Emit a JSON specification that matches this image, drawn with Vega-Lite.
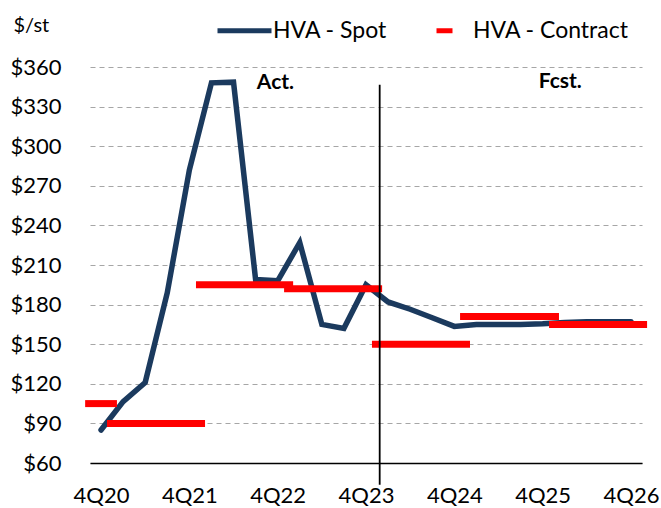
{
  "$schema": "https://vega.github.io/schema/vega-lite/v6.json",
  "autosize": "none",
  "width": 552,
  "height": 396,
  "padding": {"left": 90, "top": 67, "right": 19, "bottom": 45},
  "background": "white",
  "config": {
    "view": {"stroke": null},
    "font": "Lato",
    "axis": {"labelFont": "Lato", "labelFontSize": 22, "labelColor": "#000000", "titleFont": "Lato", "labelOverlap": false, "labelBound": false}
  },
  "datasets": {
    "spot": [
      {"t": 0, "v": 85, "series": "HVA - Spot"},
      {"t": 1, "v": 106.5, "series": "HVA - Spot"},
      {"t": 2, "v": 121, "series": "HVA - Spot"},
      {"t": 3, "v": 189, "series": "HVA - Spot"},
      {"t": 4, "v": 282, "series": "HVA - Spot"},
      {"t": 5, "v": 348, "series": "HVA - Spot"},
      {"t": 6, "v": 348.5, "series": "HVA - Spot"},
      {"t": 7, "v": 199, "series": "HVA - Spot"},
      {"t": 8, "v": 198, "series": "HVA - Spot"},
      {"t": 9, "v": 227, "series": "HVA - Spot"},
      {"t": 10, "v": 165, "series": "HVA - Spot"},
      {"t": 11, "v": 162, "series": "HVA - Spot"},
      {"t": 12, "v": 195, "series": "HVA - Spot"},
      {"t": 13, "v": 182, "series": "HVA - Spot"},
      {"t": 14, "v": 176.5, "series": "HVA - Spot"},
      {"t": 15, "v": 170, "series": "HVA - Spot"},
      {"t": 16, "v": 163.5, "series": "HVA - Spot"},
      {"t": 17, "v": 165, "series": "HVA - Spot"},
      {"t": 18, "v": 165, "series": "HVA - Spot"},
      {"t": 19, "v": 165, "series": "HVA - Spot"},
      {"t": 20, "v": 165.5, "series": "HVA - Spot"},
      {"t": 21, "v": 166.5, "series": "HVA - Spot"},
      {"t": 22, "v": 167, "series": "HVA - Spot"},
      {"t": 23, "v": 167, "series": "HVA - Spot"},
      {"t": 24, "v": 167, "series": "HVA - Spot"}
    ],
    "contract": [
      {"t1": -0.72, "t2": 0.72, "v": 105, "series": "HVA - Contract"},
      {"t1": 0.27, "t2": 4.71, "v": 90, "series": "HVA - Contract"},
      {"t1": 4.3, "t2": 8.7, "v": 195, "series": "HVA - Contract"},
      {"t1": 8.29, "t2": 12.73, "v": 192, "series": "HVA - Contract"},
      {"t1": 12.27, "t2": 16.71, "v": 150, "series": "HVA - Contract"},
      {"t1": 16.26, "t2": 20.74, "v": 171, "series": "HVA - Contract"},
      {"t1": 20.29, "t2": 24.73, "v": 165, "series": "HVA - Contract"}
    ],
    "divider": [{"t": 12.62, "y1": 346.6, "y2": 43.6}],
    "notes": [
      {"t": 7.9, "v": 348, "label": "Act."},
      {"t": 20.8, "v": 348.8, "label": "Fcst."}
    ]
  },
  "layer": [
    {
      "data": {"name": "spot"},
      "mark": {"type": "line", "strokeWidth": 5.5, "strokeJoin": "miter", "strokeCap": "round"},
      "encoding": {
        "x": {
          "field": "t", "type": "quantitative",
          "scale": {"domain": [-0.5, 24.5], "nice": false, "zero": false},
          "axis": {
            "values": [0, 4, 8, 12, 16, 20, 24], "tickCount": 30,
            "labelExpr": "'4Q' + (20 + datum.value / 4)",
            "title": null, "grid": false, "ticks": false,
            "domainColor": "#000000", "domainWidth": 1.5,
            "labelPadding": 22, "zindex": 1, "labelFlush": false
          }
        },
        "y": {
          "field": "v", "type": "quantitative",
          "scale": {"domain": [60, 360], "nice": false, "zero": false},
          "axis": {
            "values": [60, 90, 120, 150, 180, 210, 240, 270, 300, 330, 360], "tickCount": 30,
            "labelExpr": "'$' + datum.value",
            "title": "$/st", "titleAngle": 0, "titleAlign": "left", "titleBaseline": "middle",
            "titleX": -77, "titleY": -42, "titleFontSize": 20, "titleFontWeight": "normal", "titleColor": "#000000",
            "domain": false, "ticks": false, "labelPadding": 29,
            "gridColor": "#A6A6A6", "gridDash": [5, 4], "gridWidth": 1.2
          }
        },
        "color": {
          "field": "series", "type": "nominal",
          "scale": {"domain": ["HVA - Spot", "HVA - Contract"], "range": ["#1B3A5E", "#FF0000"]},
          "legend": {
            "title": null, "orient": "none", "direction": "horizontal",
            "legendX": 125, "legendY": -66,
            "symbolType": "stroke", "symbolSize": 2916, "symbolStrokeWidth": 5,
            "labelFont": "Lato", "labelFontSize": 23, "labelColor": "#000000",
            "labelOffset": -1, "columnPadding": 28,
            "encode": {
              "symbols": {"update": {
                "size": {"signal": "datum.value === 'HVA - Contract' ? 256 : 2916"}
              }}
            }
          }
        }
      }
    },
    {
      "data": {"name": "contract"},
      "mark": {"type": "rule", "strokeWidth": 7, "strokeCap": "butt"},
      "encoding": {
        "x": {"field": "t1", "type": "quantitative"},
        "x2": {"field": "t2"},
        "y": {"field": "v", "type": "quantitative"},
        "color": {"field": "series", "type": "nominal"}
      }
    },
    {
      "data": {"name": "divider"},
      "mark": {"type": "rule", "color": "#000000", "strokeWidth": 1.8},
      "encoding": {
        "x": {"field": "t", "type": "quantitative"},
        "y": {"field": "y1", "type": "quantitative"},
        "y2": {"field": "y2"}
      }
    },
    {
      "data": {"name": "notes"},
      "mark": {"type": "text", "font": "Lato", "fontSize": 21, "fontWeight": "bold", "color": "#000000", "align": "center", "baseline": "middle"},
      "encoding": {
        "x": {"field": "t", "type": "quantitative"},
        "y": {"field": "v", "type": "quantitative"},
        "text": {"field": "label"}
      }
    }
  ]
}
